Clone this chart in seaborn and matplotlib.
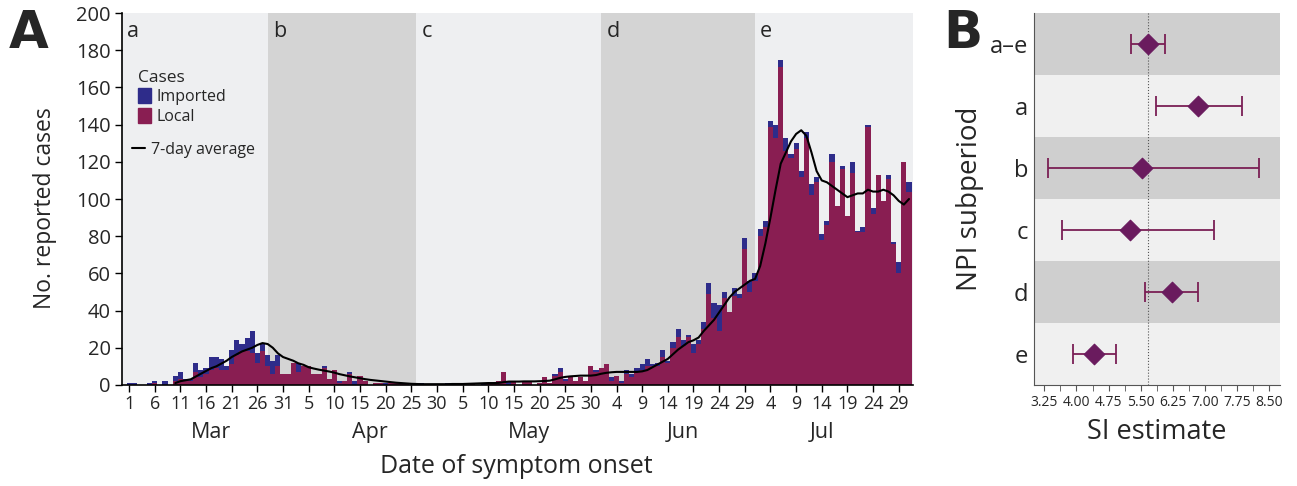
import pandas as pd
import matplotlib
matplotlib.use("Agg")
import matplotlib.pyplot as plt
from matplotlib.patches import Patch
from matplotlib.lines import Line2D
import seaborn as sns

# --- Panel A data: daily reported cases by symptom onset, 1 Mar - 31 Jul ---
local_mar = [0, 0, 0, 0, 0, 1, 0, 0, 0, 2, 3, 2, 2, 7, 4, 6, 8, 9, 8, 8, 11, 16, 18, 18, 17, 12, 18, 10, 6, 10, 6]
imported_mar = [1, 1, 0, 0, 1, 1, 0, 2, 0, 3, 4, 1, 1, 5, 4, 3, 7, 6, 6, 2, 8, 8, 4, 7, 12, 5, 4, 6, 7, 6, 0]
local_apr = [6, 12, 7, 10, 10, 6, 6, 9, 3, 8, 1, 2, 6, 0, 5, 2, 0, 1, 1, 0, 1, 1, 1, 1, 0, 0, 0, 0, 0, 0]
imported_apr = [0, 0, 5, 0, 0, 0, 0, 1, 0, 0, 1, 0, 1, 2, 0, 0, 0, 0, 0, 1, 0, 0, 0, 0, 0, 0, 1, 0, 0, 0]
local_may = [0, 0, 0, 1, 0, 0, 1, 0, 0, 1, 1, 2, 7, 0, 2, 0, 2, 2, 0, 1, 4, 1, 5, 7, 2, 5, 2, 4, 2, 10, 7]
imported_may = [0, 1, 1, 0, 0, 0, 0, 0, 1, 0, 0, 0, 0, 2, 0, 0, 0, 0, 0, 0, 0, 0, 1, 2, 1, 0, 0, 0, 0, 0, 1]
local_jun = [9, 11, 2, 5, 1, 6, 4, 7, 8, 10, 10, 10, 15, 12, 20, 26, 21, 26, 17, 22, 30, 49, 36, 29, 47, 39, 48, 47, 73, 50]
imported_jun = [0, 0, 2, 0, 1, 2, 2, 2, 3, 4, 1, 2, 4, 1, 3, 4, 3, 1, 5, 2, 4, 6, 8, 14, 3, 0, 4, 2, 6, 6]
local_jul = [56, 80, 85, 139, 133, 171, 126, 122, 127, 112, 133, 102, 109, 78, 86, 120, 96, 116, 91, 114, 82, 82,
             139, 92, 113, 99, 111, 76, 60, 120, 104]
imported_jul = [4, 4, 3, 3, 7, 4, 7, 2, 3, 3, 3, 6, 3, 3, 2, 4, 0, 2, 0, 6, 1, 3, 1, 3, 0, 0, 2, 1, 6, 0, 5]

# 7-day average, 10 Mar - 31 Jul
avg_mar = [1, 2, 2.5, 3, 4.5, 6, 7.5, 9, 10, 11.5, 13, 15, 16.5, 18, 19, 20, 21.5, 22.5, 22, 20, 17, 15]
avg_apr = [14, 13, 11.6, 10.8, 9.5, 8.8, 8.2, 7.7, 7.2, 6.6, 5.8, 5.2, 4.6, 4.1, 3.6, 3.1, 2.7, 2.4, 2.1, 1.8,
           1.5, 1.2, 1.0, 0.8, 0.6, 0.5, 0.4, 0.4, 0.4, 0.4]
avg_may = [0.4, 0.4, 0.5, 0.5, 0.5, 0.6, 0.7, 0.8, 0.9, 1.0, 1.0, 1.1, 1.5, 1.8, 1.8, 1.8, 1.9, 1.9, 1.9, 2.0,
           2.1, 2.3, 3.0, 3.8, 4.3, 4.6, 4.8, 5.0, 5.0, 5.0, 5.3]
avg_jun = [6.0, 6.5, 6.8, 7.0, 7.0, 7.0, 7.0, 7.0, 7.3, 8.0, 9.5, 11, 12.5, 14, 16.5, 19, 21, 23, 24, 25.5,
           29, 32, 35, 39, 43, 47, 50, 52, 54, 56]
avg_jul = [57, 64, 76, 90, 105, 119, 125, 131, 135, 137, 134, 125, 115, 110, 109, 107, 105, 103, 101, 102,
           103, 103, 105, 104, 104, 105, 104, 102, 99, 97, 100]

period_names = ["a", "b", "c", "d", "e"]
period_starts = ["2020-03-01", "2020-03-28", "2020-04-26", "2020-06-01", "2020-07-01"]

# --- Panel B data: serial interval estimates ---
subperiods = ["a\u2013e", "a", "b", "c", "d", "e"]
si_est = [5.67, 6.84, 5.54, 5.25, 6.23, 4.41]
si_low = [5.27, 5.85, 3.34, 3.65, 5.59, 3.91]
si_high = [6.08, 7.87, 8.27, 7.21, 6.85, 4.93]

# --- build tables ---
dates = pd.date_range("2020-03-01", "2020-07-31")
day = (dates - dates[0]).days
local = local_mar + local_apr + local_may + local_jun + local_jul
imported = imported_mar + imported_apr + imported_may + imported_jun + imported_jul
cases = pd.concat([
    pd.DataFrame({"day": day, "count": local, "type": "Local"}),
    pd.DataFrame({"day": day, "count": imported, "type": "Imported"}),
])
avg = avg_mar + avg_apr + avg_may + avg_jun + avg_jul
avg_days = day[len(day) - len(avg):]

sns.set_style("ticks")
plt.rcParams["font.family"] = ["Open Sans", "DejaVu Sans"]

col_imp = "#2E2C8A"
col_loc = "#891E52"
bg_light = "#EEEFF1"
bg_dark = "#D4D4D4"

fig = plt.figure(figsize=(12.97, 4.86), dpi=100)
ax = fig.add_axes([0.094, 0.208, 0.610, 0.765])
axb = fig.add_axes([0.797, 0.208, 0.190, 0.765])

# --- Panel A ---
x_lo, x_hi = -1.4, 152.8
starts = [(pd.Timestamp(s) - dates[0]).days for s in period_starts]
ends = starts[1:] + [x_hi]
starts[0] = x_lo
for i, (s, e, name) in enumerate(zip(starts, ends, period_names)):
    ax.axvspan(s, e, color=bg_dark if i % 2 else bg_light, zorder=0, lw=0)
    ax.text(s + 1.0, 196, name, fontsize=15.5, va="top", ha="left")

sns.histplot(data=cases, x="day", weights="count", hue="type", hue_order=["Imported", "Local"],
             multiple="stack", discrete=True, shrink=1, palette={"Imported": col_imp, "Local": col_loc},
             alpha=1, linewidth=0, legend=False, ax=ax, zorder=2)
sns.lineplot(x=avg_days, y=avg, color="black", lw=1.5, ax=ax, zorder=3)

ax.set_xlim(x_lo, x_hi)
ax.set_ylim(0, 200)
ax.set_yticks(range(0, 201, 20))
ax.tick_params(axis="y", labelsize=14.5, length=5, width=1, color="black", pad=3)
tick_days = list(range(0, 151, 5))
ax.set_xticks(tick_days)
ax.set_xticklabels([str(dates[d].day) for d in tick_days], fontsize=13)
ax.tick_params(axis="x", length=5, width=1, color="black", pad=2)
for sp in ["top", "right"]:
    ax.spines[sp].set_visible(False)
for sp in ["left", "bottom"]:
    ax.spines[sp].set_color("black")
    ax.spines[sp].set_linewidth(1.2)
ax.set_xlabel("")
ax.set_ylabel("No. reported cases", fontsize=16.5)
ax.yaxis.set_label_coords(-0.082, 0.476)

month_pos = {"Mar": "2020-03-17", "Apr": "2020-04-17", "May": "2020-05-18", "Jun": "2020-06-17", "Jul": "2020-07-14"}
for m, d in month_pos.items():
    ax.text((pd.Timestamp(d) - dates[0]).days, -0.127, m, transform=ax.get_xaxis_transform(),
            ha="center", va="center", fontsize=15.5)
fig.text(0.398, 0.041, "Date of symptom onset", ha="center", va="center", fontsize=18)

leg = ax.legend([Patch(color=col_imp), Patch(color=col_loc)], ["Imported", "Local"], title="Cases",
                loc="upper left", bbox_to_anchor=(0.012, 0.865), frameon=False, fontsize=11.5,
                title_fontsize=12.5, alignment="left", handlelength=0.85, handleheight=1.1,
                handletextpad=0.3, labelspacing=0.15, borderaxespad=0)
ax.add_artist(leg)
ax.legend([Line2D([], [], color="black", lw=1.5)], ["7-day average"], loc="center left",
          bbox_to_anchor=(0.005, 0.632), frameon=False, fontsize=11.5, handlelength=0.8,
          handletextpad=0.35, borderaxespad=0)

fig.text(0.007, 0.982, "A", fontsize=37, weight="bold", va="top", ha="left", family="DejaVu Sans")

# --- Panel B ---
ypos = list(range(len(subperiods)))
for i in ypos:
    axb.axhspan(i - 0.5, i + 0.5, color="#CFCFCF" if i % 2 == 0 else "#F0F0F0", zorder=0, lw=0)
axb.axvline(si_est[0], color="#555555", lw=0.8, ls=":", zorder=1)
lo_err = [e - l for e, l in zip(si_est, si_low)]
hi_err = [h - e for e, h in zip(si_est, si_high)]
axb.errorbar(si_est, ypos, xerr=[lo_err, hi_err], fmt="none", ecolor="#7A1F55", elinewidth=1.3,
             capsize=7, capthick=1.3, zorder=2)
sns.scatterplot(x=si_est, y=ypos, marker="D", s=110, color="#6A1B5E", edgecolor="#6A1B5E", ax=axb, zorder=3)

axb.set_xlim(3.0, 8.76)
axb.set_ylim(5.5, -0.5)
xt = [3.25 + 0.75 * i for i in range(8)]
axb.set_xticks(xt)
axb.set_xticklabels([f"{v:.2f}" for v in xt], fontsize=10)
axb.set_xticks([v + 0.375 for v in xt[:-1]], minor=True)
axb.set_yticks(ypos)
axb.set_yticklabels(subperiods, fontsize=17)
axb.tick_params(axis="y", length=0, pad=4)
axb.tick_params(axis="x", which="both", length=4, color="#555555", pad=3)
for sp in ["top", "right"]:
    axb.spines[sp].set_visible(False)
for sp in ["left", "bottom"]:
    axb.spines[sp].set_color("#555555")
axb.set_xlabel("SI estimate", fontsize=19.5, labelpad=6)
axb.set_ylabel("NPI subperiod", fontsize=20, labelpad=4)

fig.text(0.727, 0.982, "B", fontsize=37, weight="bold", va="top", ha="left", family="DejaVu Sans")

fig.savefig("out.png", dpi=100)
